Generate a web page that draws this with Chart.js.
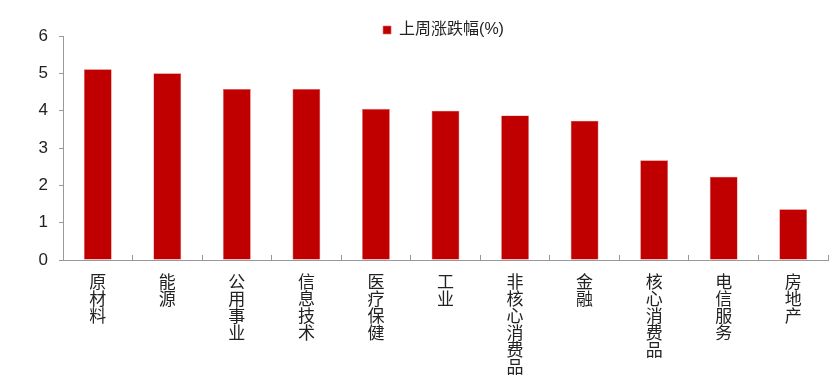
<!DOCTYPE html>
<html><head><meta charset="utf-8">
<script src="https://cdn.jsdelivr.net/npm/chart.js@4/dist/chart.umd.min.js"></script>
<style>html,body{margin:0;padding:0;background:#fff}#wrap{width:837px;height:386px}</style>
</head><body><div id="wrap"><canvas id="c" width="837" height="386"></canvas></div>
<script>
const categories = ['原材料','能源','公用事业','信息技术','医疗保健','工业','非核心消费品','金融','核心消费品','电信服务','房地产'];
const seriesName = '上周涨跌幅(%)';
const weeklyChange = [5.11, 5.00, 4.58, 4.58, 4.05, 4.00, 3.87, 3.73, 2.67, 2.23, 1.36];
const yTicks = [0, 1, 2, 3, 4, 5, 6];

const FONT = '"Liberation Sans", Arial, "Noto Sans CJK SC", sans-serif';

// move the legend block down/right so it sits just above the plot, centred on the plot area
const legendShift = {
  id: 'legendShift',
  afterLayout(chart) {
    const lg = chart.legend;
    if (!lg) return;
    const dy = 12;
    const dx = (chart.chartArea.left + chart.chartArea.right) / 2 - (lg.left + lg.right) / 2 - 2;
    lg.top += dy; lg.bottom += dy;
    lg.left += dx; lg.right += dx;
  }
};

new Chart(document.getElementById('c'), {
  type: 'bar',
  data: {
    labels: categories.map(s => s.split('')),
    datasets: [{
      label: seriesName,
      data: weeklyChange,
      backgroundColor: '#C00000',
      borderColor: '#E06666',
      borderWidth: 0.6,
      barPercentage: 0.4,
      categoryPercentage: 1.0
    }]
  },
  plugins: [legendShift],
  options: {
    responsive: false,
    animation: false,
    devicePixelRatio: 1,
    layout: { padding: { top: 2, right: 9, left: 0, bottom: 0 } },
    plugins: {
      legend: {
        position: 'top',
        labels: { boxWidth: 8, boxHeight: 8, color: '#222', font: { size: 16, family: FONT }, padding: 8 }
      },
      tooltip: { enabled: false }
    },
    scales: {
      x: {
        grid: { display: true, drawOnChartArea: false, offset: true, tickLength: -5, color: '#999' },
        border: { color: '#999', width: 1 },
        ticks: { color: '#222', font: { size: 17, family: FONT, lineHeight: 1.0 }, padding: 20, maxRotation: 0, minRotation: 0, autoSkip: false },
        afterFit(s) { s.height = 126; }
      },
      y: {
        min: 0, max: 6,
        afterBuildTicks(s) { s.ticks = yTicks.map(v => ({ value: v })); },
        grid: { display: true, drawOnChartArea: false, tickLength: 4, color: '#999' },
        border: { color: '#999', width: 1 },
        ticks: { color: '#222', font: { size: 17, family: FONT }, padding: 11 },
        afterFit(s) { s.width = 63; }
      }
    }
  }
});
</script></body></html>
